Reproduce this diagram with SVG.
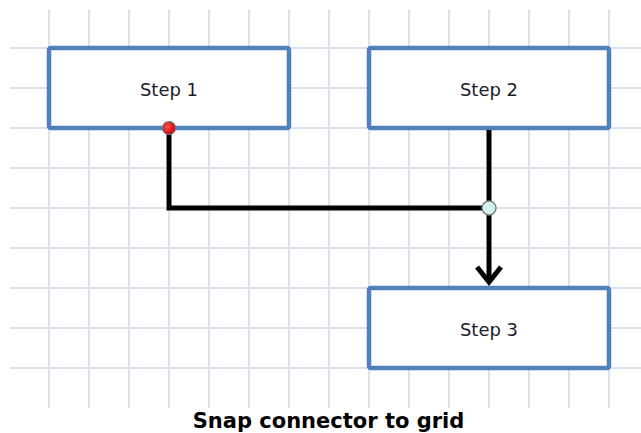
<svg xmlns="http://www.w3.org/2000/svg" width="641" height="433" viewBox="0 0 641 433">
<style>
.grid line{stroke:#dce2ed;stroke-width:2}
.box{fill:#fff;stroke:#4f81bd;stroke-width:4.5}
.lbl{font-family:"DejaVu Sans",sans-serif;font-size:18px;fill:#1a1a2a;text-anchor:middle}
.conn{fill:none;stroke:#000;stroke-width:5;stroke-linejoin:miter}
.title{font-family:"DejaVu Sans",sans-serif;font-weight:bold;font-size:21px;fill:#000;text-anchor:middle}
</style>
<defs>
<radialGradient id="red" cx="0.4" cy="0.4" r="0.6">
<stop offset="0" stop-color="#ff5050"/>
<stop offset="1" stop-color="#d00000"/>
</radialGradient>
</defs>
<rect width="641" height="433" fill="#fff"/>
<g class="grid">
<line x1="10" y1="48" x2="641" y2="48"/>
<line x1="10" y1="88" x2="641" y2="88"/>
<line x1="10" y1="128" x2="641" y2="128"/>
<line x1="10" y1="168" x2="641" y2="168"/>
<line x1="10" y1="208" x2="641" y2="208"/>
<line x1="10" y1="248" x2="641" y2="248"/>
<line x1="10" y1="288" x2="641" y2="288"/>
<line x1="10" y1="328" x2="641" y2="328"/>
<line x1="10" y1="368" x2="641" y2="368"/>
<line x1="49" y1="9" x2="49" y2="408"/>
<line x1="89" y1="9" x2="89" y2="408"/>
<line x1="129" y1="9" x2="129" y2="408"/>
<line x1="169" y1="9" x2="169" y2="408"/>
<line x1="209" y1="9" x2="209" y2="408"/>
<line x1="249" y1="9" x2="249" y2="408"/>
<line x1="289" y1="9" x2="289" y2="408"/>
<line x1="329" y1="9" x2="329" y2="408"/>
<line x1="369" y1="9" x2="369" y2="408"/>
<line x1="409" y1="9" x2="409" y2="408"/>
<line x1="449" y1="9" x2="449" y2="408"/>
<line x1="489" y1="9" x2="489" y2="408"/>
<line x1="529" y1="9" x2="529" y2="408"/>
<line x1="569" y1="9" x2="569" y2="408"/>
<line x1="609" y1="9" x2="609" y2="408"/>
</g>
<g id="step1">
<rect class="box" x="49" y="48" width="240" height="80" rx="2"/>
<text class="lbl" x="169" y="96">Step 1</text>
</g>
<g id="step2">
<rect class="box" x="369" y="48" width="240" height="80" rx="2"/>
<text class="lbl" x="489" y="96">Step 2</text>
</g>
<g id="step3">
<rect class="box" x="369" y="288" width="240" height="80" rx="2"/>
<text class="lbl" x="489" y="336">Step 3</text>
</g>
<g id="connectors">
<polyline class="conn" points="169,128 169,208 489,208"/>
<polyline class="conn" points="489,130 489,283"/>
<polyline class="conn" points="477,267 489,282 501,267" stroke-width="5.5"/>
<circle cx="169" cy="128" r="6.5" fill="url(#red)" stroke="#777" stroke-width="1.2"/>
<circle cx="489" cy="208" r="7" fill="#d6f1f1" stroke="#808080" stroke-width="1.5"/>
</g>
<text class="title" x="328.5" y="428">Snap connector to grid</text>
</svg>
